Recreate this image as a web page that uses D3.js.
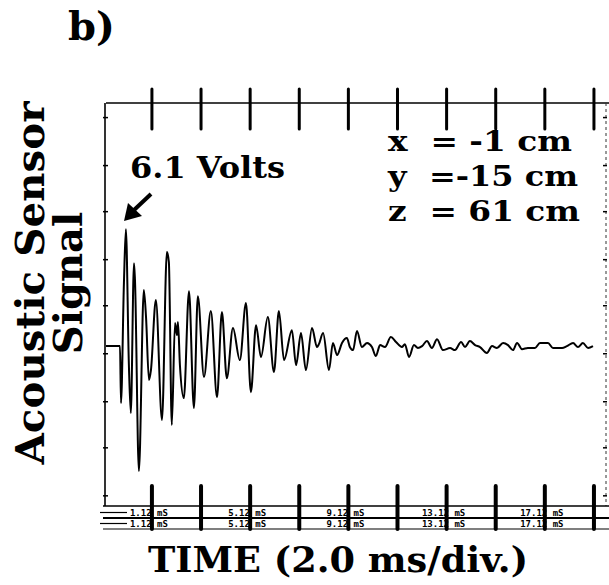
<!DOCTYPE html>
<html><head><meta charset="utf-8">
<script src="https://cdn.jsdelivr.net/npm/d3@7"></script>
<style>body{margin:0;background:#fff}svg{display:block}text{white-space:pre}</style>
</head><body>
<script>
// ---- data ----
const timeMs = [-0.75,-0.18,-0.14,-0.02,0.06,0.18,0.26,0.39,0.43,0.59,0.79,0.88,1.00,1.08,1.28,1.53,1.73,1.81,1.93,2.06,2.14,2.18,2.26,2.42,2.63,2.83,2.99,3.24,3.52,3.77,3.97,4.17,4.42,4.70,4.95,5.15,5.36,5.56,5.84,6.09,6.29,6.50,6.82,6.99,7.19,7.39,7.64,7.84,7.92,8.09,8.33,8.49,8.66,8.86,9.06,9.18,9.31,9.47,9.67,9.88,10.08,10.24,10.41,10.61,10.85,11.06,11.30,11.42,11.59,11.79,11.95,12.12,12.32,12.52,12.73,12.97,13.26,13.46,13.71,13.87,14.07,14.28,14.48,14.76,14.97,15.17,15.42,15.62,15.82,15.99,16.19,16.43,16.72,16.92,17.25,17.45,17.82,18.02,18.27,18.47,18.67,18.88,19.08];
const volts = [0,0,-2.97,3.28,6.09,-0.89,-3.49,4.32,3.44,-6.51,2.92,1.51,-1.77,-1.25,2.40,-3.85,4.90,4.38,-4.11,1.20,0.57,1.25,-0.99,-2.71,2.86,-3.23,2.60,-1.61,1.82,-2.66,1.77,-1.67,0.94,-0.73,2.24,-2.40,1.09,-0.57,1.51,-1.35,1.82,-0.73,0.83,-0.99,0.68,-1.25,0.94,-0.05,0.10,0.68,-1.25,0.16,-0.47,0.16,0.42,-0.05,-0.21,0.78,-0.05,0.16,-0.05,-0.52,0.05,-0.05,0.47,0.21,-0.05,0.10,-0.57,0.05,-0.10,0,0.26,-0.10,0.36,-0.21,-0.10,-0.21,0.21,-0.05,0.26,0.05,-0.05,-0.36,0,-0.10,0.16,0.05,-0.21,0.16,-0.16,-0.10,-0.10,0.16,0.16,-0.10,-0.10,0,0.16,-0.05,0.16,-0.10,0];
const divTicksMs = [1.12,3.12,5.12,7.12,9.12,11.12,13.12,15.12,17.12,19.12];
const timeLabelsMs = [1.12,5.12,9.12,13.12,17.12];
const timeLabelText = ["1.12 mS","5.12 mS","9.12 mS","13.12 mS","17.12 mS"];
const voltTicks = [11.9,9.4,7.0,4.5,2.1,-0.4,-2.9,-5.3,-7.8];
const peakLabel = "6.1 Volts";
const coordLabels = ["x  = -1 cm","y  =-15 cm","z  = 61 cm"];
const panelLabel = "b)";
const yTitle = ["Acoustic Sensor","Signal"];
const xTitle = "TIME (2.0 ms/div.)";

// ---- chart ----
const W = 609, H = 585;
const x = d3.scaleLinear().domain([-0.75, 19.57]).range([106, 605]);
const y = d3.scaleLinear().domain([-8.33, 12.66]).range([506, 103]);
const svg = d3.select("body").append("svg").attr("width", W).attr("height", H);
const serif = "'DejaVu Serif', serif";

// frame
svg.append("line").attr("x1",106).attr("x2",609).attr("y1",y(12.66)).attr("y2",y(12.66)).attr("stroke","#000").attr("stroke-width",1.6);
svg.append("line").attr("x1",105).attr("x2",105).attr("y1",103).attr("y2",506).attr("stroke","#000").attr("stroke-width",1.6);
svg.append("line").attr("x1",606).attr("x2",606).attr("y1",103).attr("y2",506).attr("stroke","#333").attr("stroke-width",1).attr("stroke-dasharray","3,3");
svg.append("line").attr("x1",103).attr("x2",609).attr("y1",506).attr("y2",506).attr("stroke","#000").attr("stroke-width",1.6);
svg.append("line").attr("x1",103).attr("x2",609).attr("y1",518).attr("y2",518).attr("stroke","#000").attr("stroke-width",2);
svg.append("line").attr("x1",103).attr("x2",609).attr("y1",529).attr("y2",529).attr("stroke","#000").attr("stroke-width",1.2);
[512.5, 523.5].forEach(yy => svg.append("line").attr("x1",100).attr("x2",127).attr("y1",yy).attr("y2",yy).attr("stroke","#000").attr("stroke-width",1.2));

// left / right minor ticks
const vt = svg.append("g");
voltTicks.forEach(v => {
  vt.append("line").attr("x1",103).attr("x2",108).attr("y1",y(v)).attr("y2",y(v)).attr("stroke","#000").attr("stroke-width",1.5);
  vt.append("line").attr("x1",603).attr("x2",607).attr("y1",y(v)).attr("y2",y(v)).attr("stroke","#000").attr("stroke-width",1.5);
});

// bottom labels
const lab = svg.append("g").attr("font-family","'DejaVu Sans Mono', monospace").attr("font-size",9).attr("font-weight","bold").attr("text-anchor","middle");
timeLabelsMs.forEach((t,i) => {
  lab.append("text").attr("x",x(t)-3).attr("y",516).text(timeLabelText[i]);
  lab.append("text").attr("x",x(t)-3).attr("y",527).text(timeLabelText[i]);
});

// division ticks top & bottom
divTicksMs.forEach(t => {
  svg.append("line").attr("x1",x(t)).attr("x2",x(t)).attr("y1",89).attr("y2",129).attr("stroke","#000").attr("stroke-width",3).attr("stroke-linecap","round");
  svg.append("line").attr("x1",x(t)).attr("x2",x(t)).attr("y1",486).attr("y2",529).attr("stroke","#000").attr("stroke-width",4).attr("stroke-linecap","round");
});

// signal
const pts = timeMs.map((t,i) => [t, volts[i]]);
svg.append("path").datum(pts)
  .attr("d", d3.line().x(d => x(d[0])).y(d => y(d[1])).curve(d3.curveMonotoneX))
  .attr("fill","none").attr("stroke","#000").attr("stroke-width",2).attr("stroke-linejoin","round");

// annotations
svg.append("text").attr("x",68).attr("y",40).attr("font-family",serif).attr("font-weight","bold").attr("font-size",40).text(panelLabel);
svg.append("text").attr("x",130).attr("y",178).attr("font-family",serif).attr("font-weight","bold").attr("font-size",30)
  .attr("textLength",155).attr("lengthAdjust","spacingAndGlyphs").text(peakLabel);
svg.append("line").attr("x1",151).attr("y1",194).attr("x2",133).attr("y2",211).attr("stroke","#000").attr("stroke-width",4);
svg.append("path").attr("d","M124,221 L128,203 L142,216 Z").attr("fill","#000");

const cg = svg.append("g").attr("font-family",serif).attr("font-weight","bold").attr("font-size",28);
const cLens = [184,190,192];
coordLabels.forEach((s,i) => {
  cg.append("text").attr("x",388).attr("y",151 + i*35).attr("textLength",cLens[i]).attr("lengthAdjust","spacingAndGlyphs").text(s);
});

// axis titles
svg.append("text").attr("transform","translate(44,283) rotate(-90)").attr("text-anchor","middle")
  .attr("font-family",serif).attr("font-weight","bold").attr("font-size",40).attr("textLength",363).attr("lengthAdjust","spacingAndGlyphs").text(yTitle[0]);
svg.append("text").attr("transform","translate(82,283) rotate(-90)").attr("text-anchor","middle")
  .attr("font-family",serif).attr("font-weight","bold").attr("font-size",40).text(yTitle[1]);
svg.append("text").attr("x",148).attr("y",572).attr("font-family",serif).attr("font-weight","bold").attr("font-size",36)
  .attr("textLength",380).attr("lengthAdjust","spacingAndGlyphs").text(xTitle);
</script>
</body></html>
